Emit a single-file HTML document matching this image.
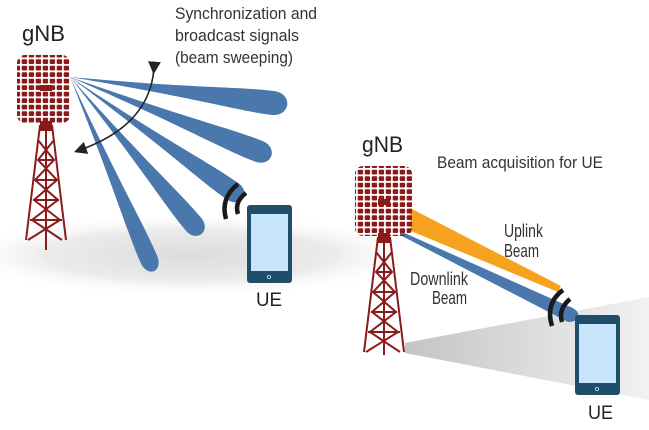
<!DOCTYPE html>
<html><head><style>
html,body{margin:0;padding:0;background:#fff;width:649px;height:430px;overflow:hidden}
svg{display:block}
text{font-family:"Liberation Sans",sans-serif;fill:#333}
</style></head><body>
<svg width="649" height="430" viewBox="0 0 649 430" xmlns="http://www.w3.org/2000/svg">
<defs>
<pattern id="cells" width="7" height="6.5" patternUnits="userSpaceOnUse">
<rect x="0.7" y="0.7" width="5.4" height="4.8" rx="1" fill="#8b1b1b"/>
</pattern>
<radialGradient id="gnd" cx="0.5" cy="0.5" r="0.5">
<stop offset="0" stop-color="#dcdcdc"/><stop offset="0.6" stop-color="#ebebeb"/><stop offset="1" stop-color="#fff" stop-opacity="0"/>
</radialGradient>
<linearGradient id="sh" x1="0" y1="0" x2="1" y2="0">
<stop offset="0" stop-color="#c4c4c4"/><stop offset="1" stop-color="#f2f2f2"/>
</linearGradient>
<marker id="ah" markerWidth="8" markerHeight="8" refX="4" refY="4" orient="auto"><path d="M0,0 L8,4 L0,8 z" fill="#222"/></marker>
</defs>
<!-- ground shading -->
<ellipse cx="190" cy="255" rx="240" ry="42" fill="url(#gnd)"/>
<polygon points="405,343 649,297 649,400 405,353" fill="url(#sh)"/>

<!-- left beams (lobes) -->
<g fill="#4a78ad" transform="translate(70,77)">
<path transform="rotate(7.3)" d="M0,0 C132,-5 168,-12 204,-12 C224,-12 224,12 204,12 C168,12 132,5 0,0Z"/>
<path transform="rotate(21.5)" d="M0,0 C131,-5 166,-11 202,-11 C221,-11 221,11 202,11 C166,11 131,5 0,0Z"/>
<path transform="rotate(35.1)" d="M0,0 C128,-4 162,-10 198,-10 C216,-10 216,10 198,10 C162,10 128,4 0,0Z"/>
<path transform="rotate(50)" d="M0,0 C124,-4 157,-10 192,-10 C209,-10 209,10 192,10 C157,10 124,4 0,0Z"/>
<path transform="rotate(66.6)" d="M0,0 C128,-4 163,-9 198,-9 C216,-9 216,9 198,9 C163,9 128,4 0,0Z"/>
</g>
<!-- arc arrow -->
<path d="M154,68 Q150,125 80,150" fill="none" stroke="#222" stroke-width="1.6" marker-start="url(#ah)" marker-end="url(#ah)"/>

<!-- left tower -->
<g stroke="#8b1b1b" stroke-width="2" fill="none">
<path d="M40,125 L26,240 M52,125 L66,240 M40,125 L52,125"/>
<path d="M38,140 L54,160 L35,180 L58,200 L32,220 L62,240 M54,140 L38,160 L57,180 L34,200 L60,220 L28,240"/>
<path d="M38,160 L54,160 M35,180 L57,180 M33,200 L59,200 M30,220 L62,220"/>
<path d="M46,125 L46,250"/>
</g>
<rect x="40" y="121" width="12" height="10" fill="#8b1b1b"/>
<rect x="17" y="55" width="53" height="68" rx="8" fill="url(#cells)"/>
<rect x="40" y="85" width="12" height="6" fill="#8b1b1b"/>

<!-- right beams -->
<path d="M410,208 L561,286 L558,292 L411,231z" fill="#f5a21f"/>
<path d="M400,231 L568,306 C582,310 582,322 568,322 L400,235z" fill="#4a78ad"/>

<!-- right tower -->
<g stroke="#8b1b1b" stroke-width="2" fill="none">
<path d="M378,237 L364,352 M390,237 L404,352 M378,237 L390,237"/>
<path d="M376,252 L392,272 L373,292 L396,312 L370,332 L400,352 M392,252 L376,272 L395,292 L372,312 L398,332 L366,352"/>
<path d="M376,272 L392,272 M373,292 L395,292 M371,312 L397,312 M368,332 L400,332"/>
<path d="M384,237 L384,355"/>
</g>
<rect x="378" y="233" width="12" height="10" fill="#8b1b1b"/>
<rect x="355" y="166" width="57" height="70" rx="8" fill="url(#cells)"/>
<rect x="378" y="199" width="12" height="6" fill="#8b1b1b"/>

<!-- waves -->
<g fill="none" stroke="#1a1a1a" stroke-width="4.5">
<path d="M238,184 Q220,198 226,219"/>
<path d="M246,193 Q234,202 238,214"/>
<path d="M563,290 Q545,303 552,326"/>
<path d="M570,299 Q558,309 562,322"/>
</g>

<!-- phones -->
<rect x="247" y="205" width="45" height="78" rx="3" fill="#1f4e6a"/>
<rect x="251" y="214" width="37" height="57" fill="#c8e6fb"/>
<rect x="575" y="315" width="45" height="80" rx="3" fill="#1f4e6a"/>
<rect x="579" y="324" width="37" height="59" fill="#c8e6fb"/>
<circle cx="269" cy="277" r="1.6" fill="none" stroke="#cde" stroke-width="0.8"/>
<circle cx="597" cy="389" r="1.6" fill="none" stroke="#cde" stroke-width="0.8"/>

<!-- labels -->
<text x="22" y="41" font-size="22" textLength="43" lengthAdjust="spacingAndGlyphs" style="fill:#222">gNB</text>
<text x="362" y="152" font-size="22" textLength="41" lengthAdjust="spacingAndGlyphs" style="fill:#222">gNB</text>
<text x="175" y="19" font-size="17" textLength="142" lengthAdjust="spacingAndGlyphs">Synchronization and</text>
<text x="175" y="41" font-size="17" textLength="124" lengthAdjust="spacingAndGlyphs">broadcast signals</text>
<text x="175" y="63" font-size="17" textLength="118" lengthAdjust="spacingAndGlyphs">(beam sweeping)</text>
<text x="437" y="168" font-size="17" textLength="166" lengthAdjust="spacingAndGlyphs">Beam acquisition for UE</text>
<text x="504" y="237" font-size="18" textLength="39" lengthAdjust="spacingAndGlyphs">Uplink</text>
<text x="504" y="257" font-size="18" textLength="35" lengthAdjust="spacingAndGlyphs">Beam</text>
<text x="410" y="285" font-size="18" textLength="58" lengthAdjust="spacingAndGlyphs">Downlink</text>
<text x="432" y="304" font-size="18" textLength="35" lengthAdjust="spacingAndGlyphs">Beam</text>
<text x="256" y="306" font-size="19" textLength="26" lengthAdjust="spacingAndGlyphs" style="fill:#222">UE</text>
<text x="588" y="419" font-size="19" textLength="25" lengthAdjust="spacingAndGlyphs" style="fill:#222">UE</text>
</svg>
</body></html>
